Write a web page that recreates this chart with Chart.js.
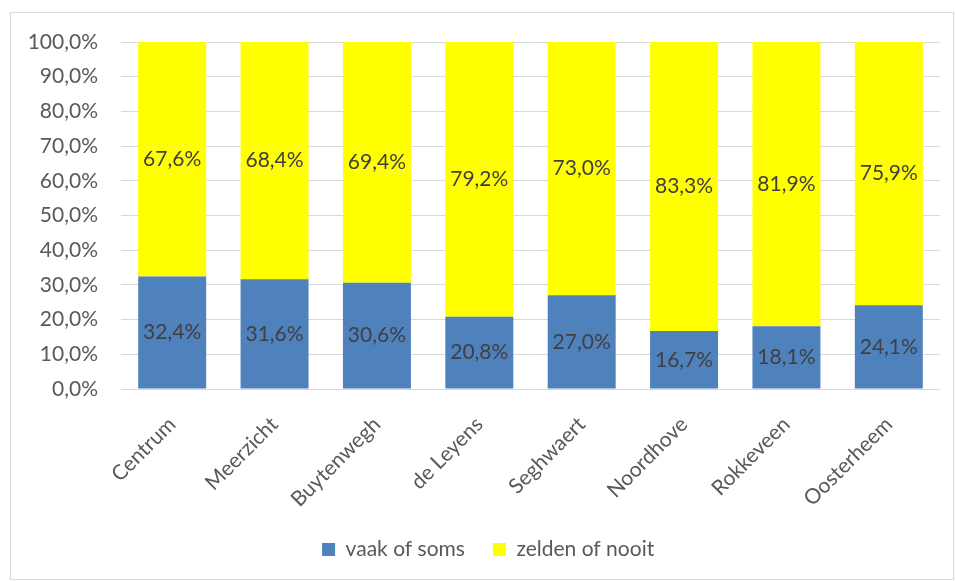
<!DOCTYPE html>
<html>
<head>
<meta charset="utf-8">
<script src="https://cdn.jsdelivr.net/npm/chart.js@4.4.1/dist/chart.umd.min.js"></script>
<style>
  html, body { margin: 0; padding: 0; background: #fff; }
  #wrap { position: relative; width: 955px; height: 581px; }
  #frame { position: absolute; left: 10px; top: 12px; width: 944px; height: 568px;
           box-sizing: border-box; border: 1px solid #d9d9d9; pointer-events: none; }
</style>
</head>
<body>
<div id="wrap">
  <canvas id="chart" width="955" height="581"></canvas>
  <div id="frame"></div>
</div>
<script>
// wijken
const categories = ['Centrum', 'Meerzicht', 'Buytenwegh', 'de Leyens', 'Seghwaert', 'Noordhove', 'Rokkeveen', 'Oosterheem'];
// percentages per antwoord
const vaakOfSoms = [32.4, 31.6, 30.6, 20.8, 27.0, 16.7, 18.1, 24.1];
const zeldenOfNooit = [67.6, 68.4, 69.4, 79.2, 73.0, 83.3, 81.9, 75.9];
const seriesNames = ['vaak of soms', 'zelden of nooit'];

const FONT = 'Lato, "Open Sans", sans-serif';
const TEXT = '#595959';

function pct(v) {
    return v.toFixed(1).replace('.', ',') + '%';
}

// labels in het midden van elk staafdeel
const barLabels = {
    id: 'barLabels',
    afterDatasetsDraw(chart) {
        const ctx = chart.ctx;
        ctx.save();
        ctx.font = '21px ' + FONT;
        ctx.fillStyle = '#404040';
        ctx.textAlign = 'center';
        ctx.textBaseline = 'middle';
        chart.data.datasets.forEach((ds, i) => {
            chart.getDatasetMeta(i).data.forEach((bar, j) => {
                const mid = (bar.y + bar.base) / 2;
                ctx.fillText(pct(ds.data[j]), bar.x, mid);
            });
        });
        ctx.restore();
    }
};

// legenda een stukje naar rechts, zoals in Excel
const legendShift = {
    id: 'legendShift',
    afterLayout(chart) {
        const lg = chart.legend;
        const dx = 0.3 * ((chart.chartArea.left + chart.chartArea.right) / 2 - (lg.left + lg.right) / 2);
        lg.left += dx;
        lg.right += dx;
    }
};

new Chart(document.getElementById('chart'), {
    type: 'bar',
    data: {
        labels: categories,
        datasets: [
            { label: seriesNames[0], data: vaakOfSoms, backgroundColor: '#4f81bd' },
            { label: seriesNames[1], data: zeldenOfNooit, backgroundColor: '#ffff00' }
        ]
    },
    options: {
        responsive: false,
        animation: false,
        layout: { padding: { top: 42, right: 15, left: 0, bottom: 11 } },
        datasets: { bar: { barPercentage: 0.664, categoryPercentage: 1 } },
        plugins: {
            legend: {
                position: 'bottom',
                labels: {
                    color: TEXT,
                    font: { family: FONT, size: 21 },
                    boxWidth: 13,
                    boxHeight: 13,
                    padding: 28
                }
            },
            tooltip: { enabled: false }
        },
        scales: {
            x: {
                stacked: true,
                grid: { display: false },
                border: { display: false },
                ticks: {
                    color: TEXT,
                    font: { family: FONT, size: 21 },
                    minRotation: 45,
                    maxRotation: 45,
                    padding: 15
                },
                afterFit: s => { s.height = 122; }
            },
            y: {
                stacked: true,
                min: 0,
                max: 100,
                grid: { color: '#d9d9d9', drawTicks: false },
                border: { display: false },
                ticks: {
                    stepSize: 10,
                    color: TEXT,
                    font: { family: FONT, size: 21 },
                    padding: 23,
                    callback: v => pct(v)
                },
                afterFit: s => { s.width = 121; }
            }
        }
    },
    plugins: [barLabels, legendShift]
});
</script>
</body>
</html>
